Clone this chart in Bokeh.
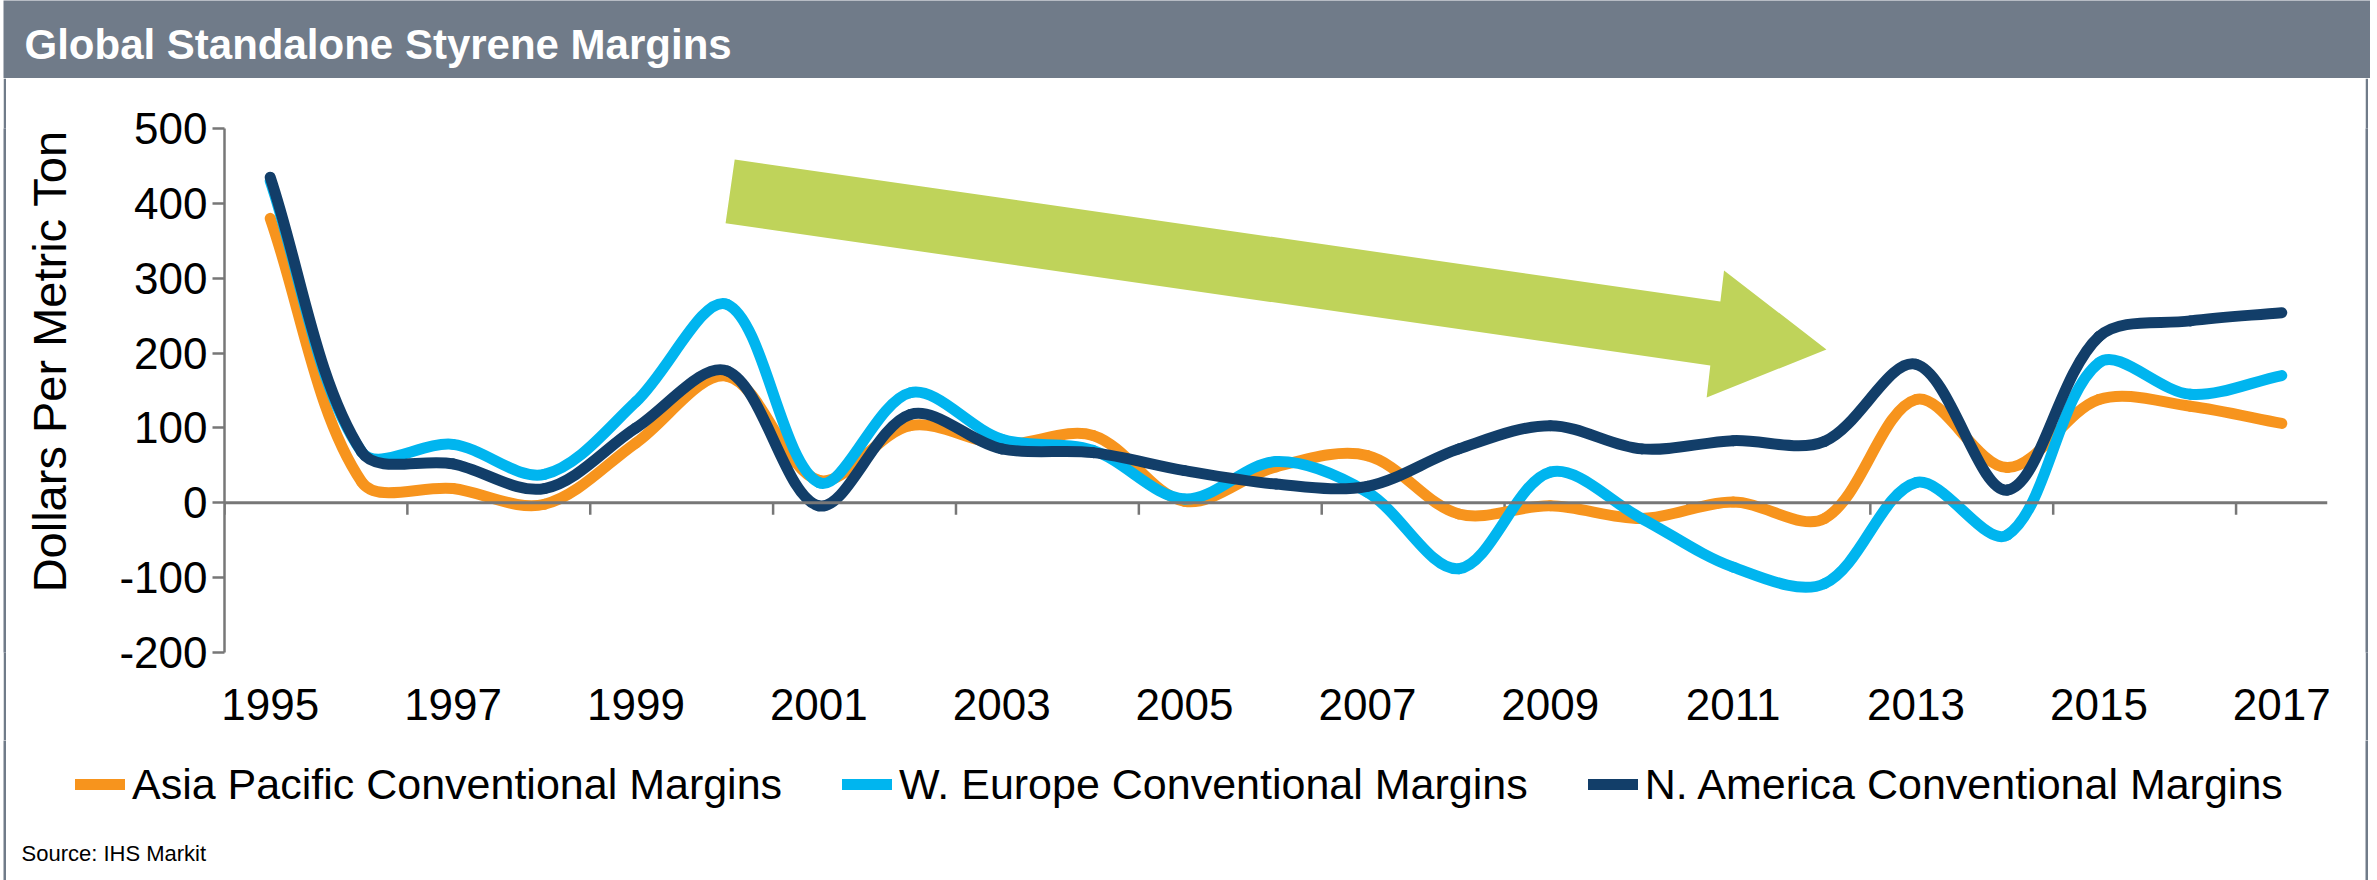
import math
from bokeh.plotting import figure
from bokeh.models import (Range1d, FixedTicker, Label, Legend, LegendItem, Span,
                          ColumnDataSource)
from bokeh.layouts import column, row
from bokeh.embed import file_html
from bokeh.resources import INLINE

# ---------------- data ----------------
years = list(range(1995, 2018))
asia_pacific = [380, 28, 19, -2, 80, 169, 30, 103, 78, 90, 2, 48, 63, -15, -4, -21,
                1, -21, 138, 47, 138, 129, 106]
w_europe = [430, 68, 78, 38, 135, 265, 27, 147, 85, 70, 5, 55, 14, -88, 41, -21,
            -86, -108, 27, -43, 187, 145, 170]
n_america = [435, 68, 52, 19, 100, 176, -4, 118, 72, 67, 43, 25, 22, 72, 103, 72,
             83, 82, 185, 17, 222, 243, 254]
series_names = ["Asia Pacific Conventional Margins",
                "W. Europe Conventional Margins",
                "N. America Conventional Margins"]
x_label_years = [1995, 1997, 1999, 2001, 2003, 2005, 2007, 2009, 2011, 2013, 2015, 2017]
y_ticks = [-200, -100, 0, 100, 200, 300, 400, 500]
title_text = "Global Standalone Styrene Margins"
y_title = "Dollars Per Metric Ton"
source_text = "Source: IHS Markit"

# trend arrow annotation (x in years, y in $/t)
arrow_x = [2000.08, 2010.86, 2010.90, 2012.02, 2010.71, 2010.75, 1999.98]
arrow_y = [458.6, 268.9, 310.3, 204.8, 140.7, 183.5, 373.4]

# ---------------- style ----------------
FONT = "Liberation Sans"
ORANGE = "#F7941D"
CYAN = "#00B5EF"
NAVY = "#123E69"
GREEN = "#BFD35A"
BAR = "#707B89"
AXIS = "#777777"
LW = 11

TOTAL_W = 2377
TITLE_H = 78
MAIN_H = 662
FOOT_H = 880 - TITLE_H - MAIN_H
YT_W = 94
INNER_W = 2359
MAIN_W = INNER_W - YT_W
FL, FR, FT, FB = 124, 38, 50, 88
FRAME_W = MAIN_W - FL - FR
FRAME_H = MAIN_H - FT - FB
X0, X1 = years[0] - 0.5, years[-1] + 0.5
Y0, Y1 = y_ticks[0], y_ticks[-1]
PX_X = FRAME_W / (X1 - X0)
PX_Y = FRAME_H / (Y1 - Y0)


def blank(w, h, color):
    f = figure(width=w, height=h, x_axis_location=None, y_axis_location=None,
               min_border=0, output_backend="svg", toolbar_location=None)
    f.grid.visible = False
    f.outline_line_color = None
    f.background_fill_color = color
    f.border_fill_color = color
    return f


def canvas(w, h, color="white"):
    f = figure(width=w, height=h, x_range=Range1d(0, w), y_range=Range1d(0, h),
               x_axis_location=None, y_axis_location=None, min_border=0,
               output_backend="svg", toolbar_location=None)
    f.grid.visible = False
    f.outline_line_color = None
    f.background_fill_color = color
    f.border_fill_color = color
    return f


# ---------------- title bar ----------------
BAR_W = 2367
tf = canvas(BAR_W, TITLE_H, BAR)
tf.add_layout(Label(x=21, y=TITLE_H - 44, text=title_text, text_font=FONT,
                    text_font_size="42px", text_font_style="bold", text_color="white",
                    text_baseline="middle", text_align="left"))

# ---------------- y title ----------------
yt = canvas(YT_W, MAIN_H)
yt.add_layout(Label(x=43, y=MAIN_H - 294, text=y_title, angle=math.pi / 2,
                    text_font=FONT, text_font_size="47px", text_color="black",
                    text_baseline="middle", text_align="center"))

# ---------------- main chart ----------------
p = figure(width=MAIN_W, height=MAIN_H, x_range=Range1d(X0, X1), y_range=Range1d(Y0, Y1),
           min_border_left=FL, min_border_right=FR, min_border_top=FT, min_border_bottom=FB,
           output_backend="svg", toolbar_location=None)
p.grid.visible = False
p.outline_line_color = None
p.background_fill_color = "white"
p.border_fill_color = "white"

ya = p.yaxis[0]
ya.ticker = FixedTicker(ticks=y_ticks)
ya.major_label_overrides = {t: str(t) for t in y_ticks}
ya.axis_line_color = AXIS
ya.axis_line_width = 2.5
ya.major_tick_line_color = AXIS
ya.major_tick_line_width = 2.5
ya.major_tick_out = 12
ya.major_tick_in = 0
ya.minor_tick_line_color = None
ya.major_label_text_font = FONT
ya.major_label_text_font_size = "44px"
ya.major_label_text_color = "black"
ya.major_label_standoff = 5

xa = p.xaxis[0]
xa.ticker = FixedTicker(ticks=x_label_years)
xa.major_label_overrides = {t: str(t) for t in x_label_years}
xa.axis_line_color = None
xa.major_tick_line_color = None
xa.minor_tick_line_color = None
xa.major_label_text_font = FONT
xa.major_label_text_font_size = "44px"
xa.major_label_text_color = "black"
xa.major_label_standoff = 30

# zero line and category tick marks
p.add_layout(Span(location=0, dimension="width", line_color=AXIS, line_width=3))
tick_pos = [y - 0.5 for y in x_label_years]
tick_len = 12 / PX_Y
p.segment(x0=tick_pos, y0=[0] * len(tick_pos), x1=tick_pos, y1=[-tick_len] * len(tick_pos),
          line_color=AXIS, line_width=2.5)

# trend arrow
p.patch(arrow_x, arrow_y, fill_color=GREEN, line_color=None)


def smooth_segments(xs, ys):
    pts = [(x * PX_X, y * PX_Y) for x, y in zip(xs, ys)]
    n = len(pts)
    out = {k: [] for k in ["x0", "y0", "x1", "y1", "cx0", "cy0", "cx1", "cy1"]}

    def dist(a, b):
        return math.hypot(a[0] - b[0], a[1] - b[1])

    for i in range(n - 1):
        p0 = pts[i - 1] if i > 0 else pts[i]
        p1 = pts[i]
        p2 = pts[i + 1]
        p3 = pts[i + 2] if i + 2 < n else pts[i + 1]
        d1, d2, d3 = dist(p0, p1), dist(p1, p2), dist(p2, p3)
        f1 = d2 / (d1 + d2) / 3 if d1 + d2 > 0 else 0
        f2 = d2 / (d2 + d3) / 3 if d2 + d3 > 0 else 0
        c1 = (p1[0] + (p2[0] - p0[0]) * f1, p1[1] + (p2[1] - p0[1]) * f1)
        c2 = (p2[0] - (p3[0] - p1[0]) * f2, p2[1] - (p3[1] - p1[1]) * f2)
        out["x0"].append(xs[i]); out["y0"].append(ys[i])
        out["x1"].append(xs[i + 1]); out["y1"].append(ys[i + 1])
        out["cx0"].append(c1[0] / PX_X); out["cy0"].append(c1[1] / PX_Y)
        out["cx1"].append(c2[0] / PX_X); out["cy1"].append(c2[1] / PX_Y)
    return ColumnDataSource(out)


colors = [ORANGE, CYAN, NAVY]
for name, vals, col in zip(series_names, [asia_pacific, w_europe, n_america], colors):
    src = smooth_segments(years, vals)
    p.bezier(x0="x0", y0="y0", x1="x1", y1="y1", cx0="cx0", cy0="cy0",
             cx1="cx1", cy1="cy1", source=src, line_color=col, line_width=LW,
             line_cap="round", line_join="round")

# ---------------- footer: legend + source ----------------
ft = canvas(INNER_W, FOOT_H)
items = []
for name, col in zip(series_names, colors):
    # legend proxy (kept outside the visible area of the footer)
    r = ft.line(x=[-60, -40], y=[-60, -60], line_color=col, line_width=LW,
                line_cap="round")
    items.append(LegendItem(label=name, renderers=[r]))
legend = Legend(items=items, orientation="horizontal", location=(69, 71),
                glyph_width=50, glyph_height=20, label_standoff=7, spacing=60,
                padding=0, margin=0, border_line_color=None, background_fill_alpha=0,
                label_text_font=FONT, label_text_font_size="43px",
                label_text_color="black", label_height=50)
ft.add_layout(legend, "center")
ft.add_layout(Label(x=15, y=27, text=source_text, text_font=FONT, text_font_size="22px",
                    text_color="black", text_baseline="middle", text_align="left"))

# ---------------- assemble ----------------
layout = column(
    row(blank(3, TITLE_H, "white"), tf, blank(TOTAL_W - 3 - BAR_W, TITLE_H, "white"), spacing=0),
    row(blank(3, MAIN_H, "white"), blank(3, MAIN_H, BAR), yt, p, blank(3, MAIN_H, BAR),
        blank(TOTAL_W - 9 - INNER_W, MAIN_H, "white"), spacing=0),
    row(blank(3, FOOT_H, "white"), blank(3, FOOT_H, BAR), ft, blank(3, FOOT_H, BAR),
        blank(TOTAL_W - 9 - INNER_W, FOOT_H, "white"), spacing=0),
    spacing=0)
open("out.html", "w").write(file_html(layout, INLINE))
